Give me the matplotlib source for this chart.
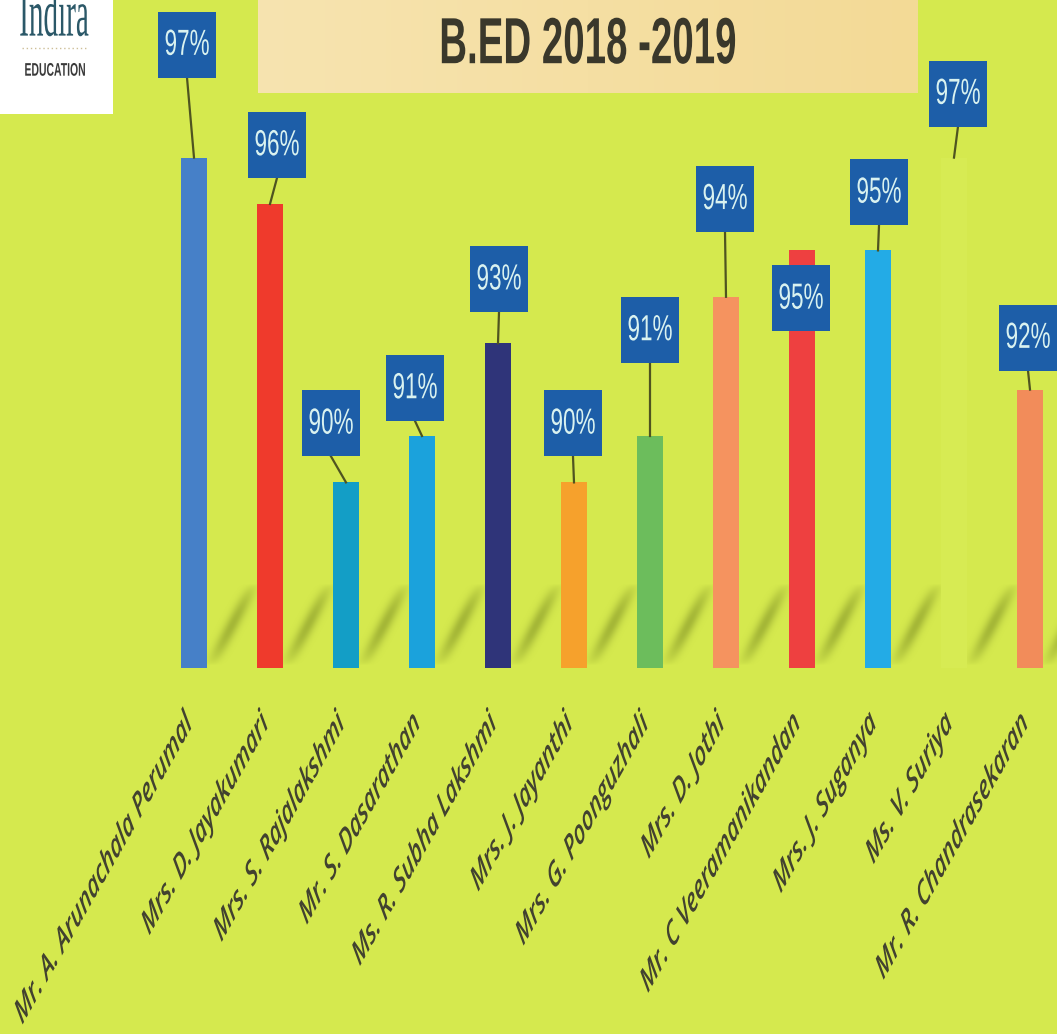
import numpy as np
import matplotlib
matplotlib.use("Agg")
import matplotlib.pyplot as plt
from matplotlib import transforms as mtransforms
from matplotlib.patheffects import AbstractPathEffect
from matplotlib.patches import Rectangle
from matplotlib.lines import Line2D

# ---------------------------------------------------------------- data
teachers = [
    "Mr. A. Arunachala Perumal", "Mrs. D. Jayakumari", "Mrs. S. Rajalakshmi",
    "Mr. S. Dasarathan", "Ms. R. Subha Lakshmi", "Mrs. J. Jayanthi",
    "Mrs. G. Poonguzhali", "Mrs. D. Jothi", "Mr. C Veeramanikandan",
    "Mrs. J. Suganya", "Ms. V. Suriya", "Mr. R. Chandrasekaran",
]
pass_pct = [97, 96, 90, 91, 93, 90, 91, 94, 95, 95, 97, 92]
value_labels = [f"{v}%" for v in pass_pct]
title = "B.ED 2018 -2019"

# ---------------------------------------------------------------- styles
bar_colors = ["#4680c8", "#ef3a2c", "#139ec6", "#1ba2dc", "#2f3479", "#f6a12c",
              "#6cbd5c", "#f5935f", "#ee4040", "#23abe6", "#d7eb53", "#f28c5a"]
# callout box centre relative to the top of its bar, in pixels (x right, y down)
callout_offsets = [(-7, -113), (7, -59), (-15, -59), (-7, -48), (1, -64), (-1, -59),
                   (0, -106), (-1, -98), (-1, 48), (1, -58), (4, -64), (-2, -52)]

BG = "#d5e94e"
BOX = "#1d5ea8"
BOX_TEXT = "#d9f2f0"
LEADER = "#4f5420"
LABEL = "#42422f"

W, H, DPI = 1057, 1034, 100
BASE_PX = 668          # distance of the value floor from the top edge
PX_PER_PT = 46.4       # pixels per percentage point
Y_FLOOR = 86
SLOT_PX = 76           # spacing between bars
FIRST_PX = 194         # centre of the first bar
BAR_W = 0.355
BOX_W, BOX_H = 58, 66
TALL = 1.0 / 0.57      # vertical stretch of the condensed lettering


class Stretch(AbstractPathEffect):
    """Scale glyph outlines about a point of their ink box (tall, condensed lettering)."""

    def __init__(self, sx=1.0, sy=1.0, fx=0.5, fy=0.5):
        super().__init__()
        self.sx, self.sy, self.fx, self.fy = sx, sy, fx, fy

    def draw_path(self, renderer, gc, tpath, affine, rgbFace=None):
        ext = tpath.get_extents()
        lx = ext.x0 + self.fx * ext.width
        ly = ext.y0 + self.fy * ext.height
        px, py = affine.transform((lx, ly))
        sq = (mtransforms.Affine2D().translate(-px, -py)
              .scale(self.sx, self.sy).translate(px, py))
        renderer.draw_path(gc, tpath, affine + sq, rgbFace)


fig = plt.figure(figsize=(W / DPI, H / DPI), dpi=DPI, facecolor=BG)
ax = fig.add_axes([0, (H - BASE_PX) / H, 1, BASE_PX / H])
ax.set_facecolor(BG)
xlim = (-FIRST_PX / SLOT_PX, (W - FIRST_PX) / SLOT_PX)
ylim = (Y_FLOOR, Y_FLOOR + BASE_PX / PX_PER_PT)
ax.set_xlim(*xlim)
ax.set_ylim(*ylim)
ax.axis("off")

x = np.arange(len(teachers))

# ---------------------------------------------------------------- soft floor shadows
xs_px = np.arange(W) + 0.5
ys_px = np.arange(560, BASE_PX) + 0.5          # rows measured from the top edge
XX, YY = np.meshgrid(xs_px, ys_px)
shade = np.zeros_like(XX)
for i in x:
    xr = ax.transData.transform((i + BAR_W / 2, Y_FLOOR))[0]
    x0, y0 = xr + 4, BASE_PX - 3                # lower end just right of the bar foot
    x1, y1 = xr + 46, BASE_PX - 84
    t = (y0 - YY) / (y0 - y1)
    xline = x0 + t * (x1 - x0)
    env = np.clip(np.sin(np.pi * np.clip(t, 0, 1)), 0, 1) ** 0.7
    shade = np.maximum(shade, np.exp(-((XX - xline) / 7.5) ** 2) * env)
rgba = np.zeros(shade.shape + (4,))
rgba[..., :3] = np.array([92, 108, 20]) / 255
rgba[..., 3] = 0.40 * shade
y_top = Y_FLOOR + (BASE_PX - 560) / PX_PER_PT
ax.imshow(rgba, extent=(xlim[0], xlim[1], Y_FLOOR, y_top), origin="upper",
          aspect="auto", interpolation="bilinear", zorder=1)
ax.set_xlim(*xlim)
ax.set_ylim(*ylim)

# ---------------------------------------------------------------- bars
ax.bar(x, np.array(pass_pct) - Y_FLOOR, bottom=Y_FLOOR, width=BAR_W,
       color=bar_colors, zorder=2)

# ---------------------------------------------------------------- callouts
for i, (v, lab, (dx, dy)) in enumerate(zip(pass_pct, value_labels, callout_offsets)):
    anchor = mtransforms.IdentityTransform() + mtransforms.ScaledTranslation(i, v, ax.transData)
    cy = -dy
    if dy < 0:
        ax.add_line(Line2D([dx, 0], [cy - BOX_H / 2, 0], transform=anchor,
                           color=LEADER, lw=1.6, zorder=3))
    ax.add_patch(Rectangle((dx - BOX_W / 2, cy - BOX_H / 2), BOX_W, BOX_H,
                           transform=anchor, facecolor=BOX, edgecolor="none",
                           zorder=4, clip_on=False))
    ax.text(dx, cy, lab, transform=anchor, ha="center", va="center",
            fontsize=16.2, family="Liberation Sans", color=BOX_TEXT, zorder=5,
            path_effects=[Stretch(sy=1.0 / 0.62)])

# ---------------------------------------------------------------- category labels
lab_trans = mtransforms.offset_copy(ax.transData, fig=fig, x=-11, y=-38, units="dots")
for i, name in enumerate(teachers):
    ax.text(i, Y_FLOOR, name, transform=lab_trans, rotation=45,
            rotation_mode="anchor", ha="right", va="top", fontsize=14.2,
            style="italic", weight="semibold", family="Open Sans", color=LABEL,
            path_effects=[Stretch(sy=TALL, fx=1.0, fy=1.0)])

# ---------------------------------------------------------------- title banner
tax = fig.add_axes([258 / W, 1 - 93 / H, 660 / W, 93 / H])
grad = np.linspace(0, 1, 256)
c0 = np.array([247, 228, 176]) / 255
c1 = np.array([243, 218, 150]) / 255
banner = (c0 + (c1 - c0) * grad[:, None])[None, :, :]
tax.imshow(banner, aspect="auto", extent=(0, 1, 0, 1))
tax.axis("off")
fig.text(588 / W, 1 - 44 / H, title, ha="center", va="center", fontsize=27.7,
         weight="bold", family="Liberation Sans", color="#3a382b", zorder=10,
         path_effects=[Stretch(sy=1.0 / 0.59)])

# ---------------------------------------------------------------- logo
fig.patches.append(Rectangle((0, 1 - 114 / H), 113 / W, 114 / H,
                             transform=fig.transFigure, facecolor="white",
                             edgecolor="none", zorder=9))
fig.text(54 / W, 1 - 36 / H, "Indira", ha="center", va="baseline", fontsize=21,
         family="Liberation Serif", color="#2b5868", zorder=10,
         path_effects=[Stretch(sy=2.3, fy=0.0)])
fig.lines.append(Line2D([22 / W, 88 / W], [1 - 48 / H, 1 - 48 / H],
                        transform=fig.transFigure, color="#cdbf98", lw=1,
                        ls=(0, (1, 2)), zorder=10))
fig.text(55 / W, 1 - 70 / H, "EDUCATION", ha="center", va="center", fontsize=7.5,
         weight="bold", family="Liberation Sans", color="#3a3a3a", zorder=10,
         path_effects=[Stretch(sy=1.0 / 0.57)])

fig.savefig("out.png", dpi=DPI, facecolor=BG)
